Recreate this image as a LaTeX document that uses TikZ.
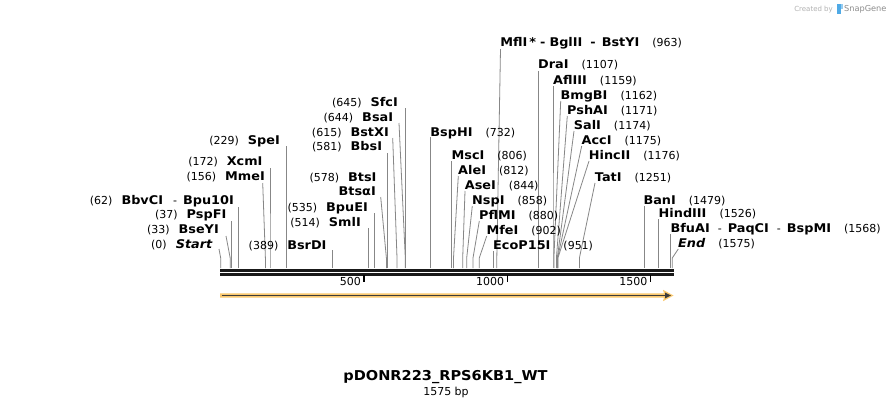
\documentclass[tikz,border=0pt]{standalone}
\usepackage{fontspec}
\setmainfont{DejaVu Sans}
\newfontfamily\nmfam{DejaVu Sans}[FakeStretch=1.07]
\definecolor{cutgray}{RGB}{135,135,135}
\definecolor{featorange}{RGB}{250,200,110}
\definecolor{featdark}{RGB}{60,60,60}
\definecolor{sgblue}{RGB}{80,170,230}
\newcommand\nmx[1]{{\nmfam\fontsize{12}{14}\selectfont\bfseries #1}}
\newcommand\nmi[1]{{\nmfam\fontsize{12}{14}\selectfont\bfseries\itshape #1}}
\tikzset{
  lab/.style={inner sep=0pt, font=\fontsize{11}{13}\selectfont, text=black},
  cutln/.style={draw=cutgray, line width=0.8pt},
  bbone/.style={draw=black!90, line width=2.3pt},
  tickln/.style={draw=black, line width=1.5pt}
}
\newcommand\Llab[4]{\node[lab, anchor=base east] (#1) at (#2,#3+4.3) {#4};}
\newcommand\Rlab[4]{\node[lab, anchor=base west] (#1) at (#2,#3+4.3) {#4};}
\newcommand\Cut[4]{\coordinate (b#1) at (#2,268); \coordinate (k#1) at (#2,258); \coordinate (t#1) at (#3,#4); \draw[cutln] (b#1) -- (k#1) -- (t#1);}
\begin{document}
\begin{tikzpicture}[x=1pt,y=-1pt]
\useasboundingbox[fill=white] (0,0) rectangle (894,408);

% cut lines (left group)
\Cut{c0}{220.7}{219}{249}
\Cut{c33}{230.2}{226}{236}
\Cut{c37}{231.5}{231.5}{221}
\Cut{c62}{238.5}{238.5}{207}
\Cut{c156}{265.4}{262.7}{183}
\Cut{c172}{270.0}{270.0}{168}
\Cut{c229}{286.4}{286.4}{146}
\Cut{c389}{332.2}{332.2}{250}
\Cut{c514}{368.1}{368.1}{228}
\Cut{c535}{374.1}{374.1}{213}
\Cut{c578}{386.4}{380.7}{197}
\Cut{c581}{387.3}{387.3}{153}
\Cut{c615}{397.0}{392.7}{138}
\Cut{c644}{405.3}{399}{123}
\Cut{c645}{405.6}{405.6}{108}
% cut lines (right group)
\Cut{c732}{430.6}{430.6}{137}
\Cut{c963}{496.8}{500.5}{49}
\Cut{c806}{451.8}{451.8}{161}
\Cut{c812}{453.5}{458.3}{176}
\Cut{c844}{462.7}{465}{191}
\Cut{c858}{466.7}{472.3}{206}
\Cut{c880}{473.0}{479.3}{221}
\Cut{c902}{479.3}{486.7}{236}
\Cut{c951}{493.4}{493.4}{251}
\Cut{c1107}{538.1}{538.1}{71}
\Cut{c1159}{553.0}{553.0}{86}
\Cut{c1162}{553.9}{560.7}{101}
\Cut{c1171}{556.4}{567.3}{116}
\Cut{c1174}{557.3}{574}{131}
\Cut{c1175}{557.6}{581.7}{146}
\Cut{c1176}{557.9}{589}{161}
\Cut{c1251}{579.4}{595}{183}
\Cut{c1479}{644.7}{644.7}{206}
\Cut{c1526}{658.2}{658.2}{219}
\Cut{c1568}{670.3}{670.3}{234}
\Cut{c1575}{672.3}{678.3}{249}

% left labels
\Llab{l0}{212.5}{244}{(0)\hspace{9pt}\nmi{Start}}
\Llab{l33}{219}{229}{(33)\hspace{9pt}\nmx{BseYI}}
\Llab{l37}{226.5}{214}{(37)\hspace{9pt}\nmx{PspFI}}
\Llab{l62}{234}{200}{(62)\hspace{9pt}\nmx{BbvCI}\hspace{10pt}-\hspace{6pt}\nmx{Bpu10I}}
\Llab{l156}{265}{176.5}{(156)\hspace{9pt}\nmx{MmeI}}
\Llab{l172}{262.7}{161}{(172)\hspace{9pt}\nmx{XcmI}}
\Llab{l229}{280}{140.5}{(229)\hspace{9pt}\nmx{SpeI}}
\Llab{l389}{326.7}{245}{(389)\hspace{9pt}\nmx{BsrDI}}
\Llab{l514}{361}{222}{(514)\hspace{9pt}\nmx{SmlI}}
\Llab{l535}{368}{207}{(535)\hspace{9pt}\nmx{BpuEI}}
\Llab{l578b}{376}{191.5}{\nmx{BtsαI}}
\Llab{l578}{376.7}{177}{(578)\hspace{9pt}\nmx{BtsI}}
\Llab{l581}{382.3}{146.5}{(581)\hspace{9pt}\nmx{BbsI}}
\Llab{l615}{389}{131.7}{(615)\hspace{9pt}\nmx{BstXI}}
\Llab{l644}{393.3}{116.7}{(644)\hspace{9pt}\nmx{BsaI}}
\Llab{l645}{398}{102}{(645)\hspace{9pt}\nmx{SfcI}}

% right labels
\Rlab{r732}{430.2}{131.7}{\nmx{BspHI}\hspace{13pt}(732)}
\Rlab{r963}{500.2}{42.3}{\nmx{MflI\,*}\hspace{4pt}\nmx{-}\hspace{4pt}\nmx{BglII}\hspace{8pt}\nmx{-}\hspace{6pt}\nmx{BstYI}\hspace{13pt}(963)}
\Rlab{r806}{451.4}{155}{\nmx{MscI}\hspace{13pt}(806)}
\Rlab{r812}{458}{170}{\nmx{AleI}\hspace{13pt}(812)}
\Rlab{r844}{464.7}{185}{\nmx{AseI}\hspace{13pt}(844)}
\Rlab{r858}{472}{200.5}{\nmx{NspI}\hspace{13pt}(858)}
\Rlab{r880}{479}{215}{\nmx{PflMI}\hspace{13pt}(880)}
\Rlab{r902}{486.4}{230}{\nmx{MfeI}\hspace{13pt}(902)}
\Rlab{r951}{493}{245}{\nmx{EcoP15I}\hspace{13pt}(951)}
\Rlab{r1107}{538}{64.3}{\nmx{DraI}\hspace{13pt}(1107)}
\Rlab{r1159}{553}{80}{\nmx{AflIII}\hspace{13pt}(1159)}
\Rlab{r1162}{560.4}{95}{\nmx{BmgBI}\hspace{13pt}(1162)}
\Rlab{r1171}{567}{110}{\nmx{PshAI}\hspace{13pt}(1171)}
\Rlab{r1174}{573.7}{125}{\nmx{SalI}\hspace{13pt}(1174)}
\Rlab{r1175}{581.4}{140}{\nmx{AccI}\hspace{13pt}(1175)}
\Rlab{r1176}{588.7}{155}{\nmx{HincII}\hspace{13pt}(1176)}
\Rlab{r1251}{594.7}{176.7}{\nmx{TatI}\hspace{13pt}(1251)}
\Rlab{r1479}{643.3}{200}{\nmx{BanI}\hspace{13pt}(1479)}
\Rlab{r1526}{658.5}{213.3}{\nmx{HindIII}\hspace{13pt}(1526)}
\Rlab{r1568}{670.4}{228.3}{\nmx{BfuAI}\hspace{8pt}-\hspace{6pt}\nmx{PaqCI}\hspace{8pt}-\hspace{6pt}\nmx{BspMI}\hspace{13pt}(1568)}
\Rlab{r1575}{678}{242.7}{\nmi{End}\hspace{13pt}(1575)}

% backbone
\coordinate (bbL1) at (220,270.5); \coordinate (bbR1) at (674,270.5);
\coordinate (bbL2) at (220,274.5); \coordinate (bbR2) at (674,274.5);
\draw[bbone] (bbL1) -- (bbR1);
\draw[bbone] (bbL2) -- (bbR2);
% ticks
\coordinate (tk5a) at (364.1,275); \coordinate (tk5b) at (364.1,282.3);
\coordinate (tk10a) at (507.4,275); \coordinate (tk10b) at (507.4,282.3);
\coordinate (tk15a) at (650.7,275); \coordinate (tk15b) at (650.7,282.3);
\draw[tickln] (tk5a) -- (tk5b);
\draw[tickln] (tk10a) -- (tk10b);
\draw[tickln] (tk15a) -- (tk15b);
\node[lab, anchor=base east] (t500) at (361,285.5) {500};
\node[lab, anchor=base east] (t1000) at (504.3,285.5) {1000};
\node[lab, anchor=base east] (t1500) at (647.6,285.5) {1500};

% feature arrow
\fill[featorange] (220,293.3) -- (664,293.3) -- (663,289.8) -- (673.5,295.5) -- (663,301.2) -- (664,297.7) -- (220,297.7) -- cycle;
\coordinate (faL) at (221.5,295.5); \coordinate (faR) at (666,295.5);
\draw[featdark, line width=1.4pt] (faL) -- (faR);
\fill[featdark] (665,292.6) -- (671,295.5) -- (665,298.4) -- cycle;

% title
\node[inner sep=0pt, font=\nmfam\fontsize{13.6}{16}\selectfont\bfseries] (title) at (445.5,377) {pDONR223\_RPS6KB1\_WT};
\node[inner sep=0pt, font=\fontsize{11}{13}\selectfont] (size) at (446,392) {1575 bp};

% logo
\node[inner sep=0pt, anchor=base east, text=black!30, font=\fontsize{7}{8}\selectfont] (cby) at (833,11) {Created by};
\fill[sgblue] (837,3.5) rectangle (840.5,13.5);
\fill[sgblue!60] (840.5,3.5) rectangle (842.5,8.5);
\node[inner sep=0pt, anchor=base west, text=black!45, font=\fontsize{8.2}{10}\selectfont] (sg) at (844,11.5) {SnapGene};
\end{tikzpicture}
\end{document}
